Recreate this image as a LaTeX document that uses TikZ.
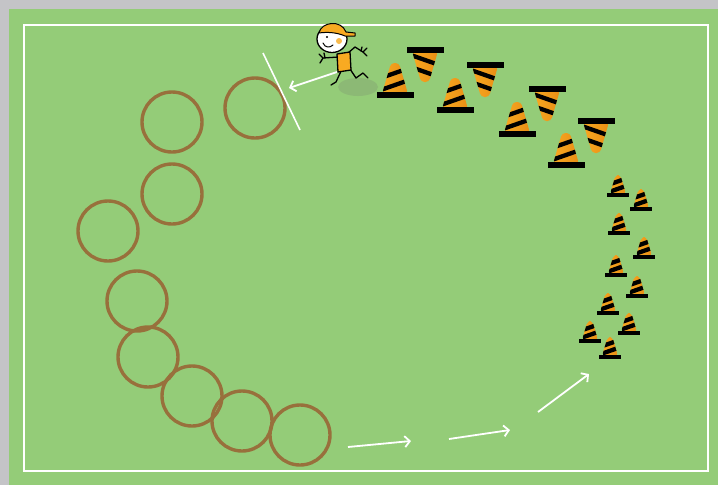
\documentclass[tikz,border=0pt]{standalone}
\usetikzlibrary{arrows.meta}
\definecolor{pitch}{RGB}{148,204,120}
\definecolor{surround}{RGB}{196,196,199}
\definecolor{hoopbrown}{RGB}{152,112,60}
\definecolor{coneorange}{RGB}{248,170,34}
\definecolor{conedark}{RGB}{232,140,20}
\definecolor{shadowgray}{RGB}{120,130,110}
\tikzset{
  hoop/.style={circle,draw=hoopbrown,line width=3.4pt,minimum size=60pt,inner sep=0pt},
  runline/.style={draw=white,line width=1.8pt,-{Straight Barb[length=5pt,width=11pt]}},
  pitchline/.style={draw=white,line width=1.6pt},
  ink/.style={draw=black,line width=1.3pt,line cap=round,line join=round},
  traffic cone/.pic={
    \begin{scope}
      \clip[rounded corners=3.5pt] (-13,-1) -- (-4,-32) -- (4,-32) -- (13,-1) -- cycle;
      \shade[left color=coneorange,right color=conedark] (-14,0) rectangle (14,-35);
      \draw[black,line width=4.3pt] (-20,-3) -- (20,-17);
      \draw[black,line width=4.3pt] (-20,-15) -- (20,-29);
    \end{scope}
    \fill[black] (-18.5,-2.8) rectangle (18.5,2.8);
  }
}
\begin{document}
\begin{tikzpicture}[x=1pt,y=-1pt]
  \useasboundingbox (0,0) rectangle (718,485);
  % surround and pitch
  \fill[surround] (0,0) rectangle (718,485);
  \fill[pitch] (9,9) rectangle (718,485);
  \draw[pitchline] (24,25) rectangle (708,471);

  % hoops
  \node[hoop] (h1) at (255,108) {};
  \node[hoop] (h2) at (172,122) {};
  \node[hoop] (h3) at (172,194) {};
  \node[hoop] (h4) at (108,231) {};
  \node[hoop] (h5) at (137,301) {};
  \node[hoop] (h6) at (148,357) {};
  \node[hoop] (h7) at (192,396) {};
  \node[hoop] (h8) at (242,421) {};
  \node[hoop] (h9) at (300,435) {};

  % start line beside the first hoop
  \coordinate (l1) at (263,53);
  \coordinate (l2) at (300,130);
  \draw[pitchline] (l1) -- (l2);

  % running arrows
  \coordinate (r0a) at (337,72);  \coordinate (r0b) at (289,88);
  \coordinate (r1a) at (348,447); \coordinate (r1b) at (411,441);
  \coordinate (r2a) at (449,439); \coordinate (r2b) at (510,430);
  \coordinate (r3a) at (538,412); \coordinate (r3b) at (589,374);
  \draw[runline] (r0a) -- (r0b);
  \draw[runline] (r1a) -- (r1b);
  \draw[runline] (r2a) -- (r2b);
  \draw[runline] (r3a) -- (r3b);

  % big cones, alternating upright and upside down
  \pic at (395,95) {traffic cone};
  \pic at (455,110) {traffic cone};
  \pic at (517,134) {traffic cone};
  \pic at (566,165) {traffic cone};
  \pic[yscale=-1] at (425,50) {traffic cone};
  \pic[yscale=-1] at (485,65) {traffic cone};
  \pic[yscale=-1] at (547,89) {traffic cone};
  \pic[yscale=-1] at (596,121) {traffic cone};

  % small cones zig-zag
  \foreach \p in {(618,195),(641,209),(619,233),(644,257),(616,275),
                  (637,296),(608,313),(629,333),(590,341),(610,357)}
    \pic[scale=0.62] at \p {traffic cone};

  % runner
  \fill[shadowgray,opacity=0.25] (358,87) ellipse [x radius=20,y radius=9];
  \draw[ink] (342,69) -- (336,82) -- (331,85);
  \draw[ink] (350,69) -- (356,78) -- (363,73) -- (368,78);
  \draw[ink] (339,57) -- (323,58);
  \draw[ink] (323,58) -- (319,54) (323,58) -- (320,63) (325,58) -- (324,53);
  \draw[ink] (348,53) -- (355,47) -- (363,52);
  \draw[ink] (363,52) -- (367,48) (363,52) -- (367,56) (361,51) -- (362,47);
  \filldraw[ink,fill=coneorange] (337,54) -- (350,52) -- (351,70) -- (338,72) -- cycle;
  \filldraw[ink,fill=white] (332,39) ellipse [x radius=15,y radius=13.5];
  \filldraw[ink,fill=coneorange,line width=1pt]
    (319,33) .. controls (321,22) and (341,19) .. (346,32) -- (355,33) -- (355,36) -- (345,36)
    .. controls (336,32) and (326,32) .. (319,33) -- cycle;
  \fill[coneorange!80!white] (339,41) circle (3);
  \fill[black] (327,37) circle (1.1);
  \draw[ink,line width=1pt] (323,43) .. controls (325,48) and (330,48) .. (333,45);
\end{tikzpicture}
\end{document}
